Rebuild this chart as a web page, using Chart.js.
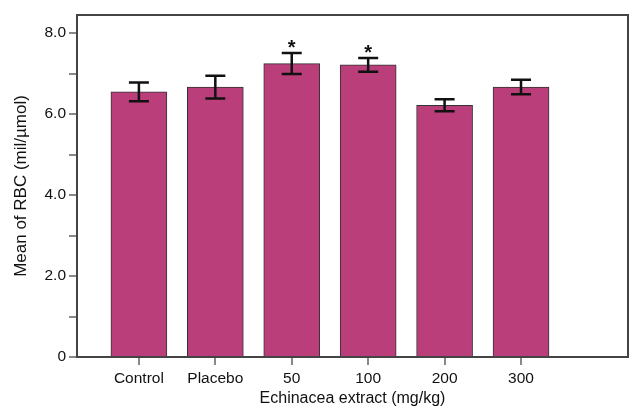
<!DOCTYPE html>
<html>
<head>
<meta charset="utf-8">
<script src="https://cdn.jsdelivr.net/npm/chart.js@4"></script>
<style>
  html, body { margin: 0; padding: 0; background: #fff; }
  #wrap { width: 629px; height: 408px; }
</style>
</head>
<body>
<div id="wrap"><canvas id="graphique"></canvas></div>
<script>
// valeurs
const categories = ['Control', 'Placebo', '50', '100', '200', '300'];
const moyennes = [6.55, 6.67, 7.25, 7.22, 6.22, 6.67];
const erreurs = [0.23, 0.28, 0.26, 0.17, 0.15, 0.18];
const significatif = [false, false, true, true, false, false];
const yTicks = [0, 1, 2, 3, 4, 5, 6, 7, 8];

const barColor = 'rgb(186, 62, 122)';
const frameColor = '#444';
const police = '"Liberation Sans", Arial, sans-serif';

// barres d'erreur + etoiles
const errorBarsPlugin = {
    id: 'errorBars',
    afterDatasetsDraw(chart) {
        const ctx = chart.ctx;
        const xs = chart.scales.x;
        const ys = chart.scales.y;
        ctx.save();
        ctx.strokeStyle = '#111';
        ctx.lineWidth = 2.5;
        moyennes.forEach((m, i) => {
            const x = xs.getPixelForValue(i + 1);
            const yTop = ys.getPixelForValue(m + erreurs[i]);
            const yBot = ys.getPixelForValue(m - erreurs[i]);
            ctx.beginPath();
            ctx.moveTo(x, yTop); ctx.lineTo(x, yBot);
            ctx.moveTo(x - 10, yTop); ctx.lineTo(x + 10, yTop);
            ctx.moveTo(x - 10, yBot); ctx.lineTo(x + 10, yBot);
            ctx.stroke();
            if (significatif[i]) {
                ctx.fillStyle = '#111';
                ctx.font = 'bold 20px ' + police;
                ctx.textAlign = 'center';
                ctx.textBaseline = 'alphabetic';
                ctx.fillText('*', x, yTop + 1);
            }
        });
        ctx.restore();
    }
};

// cadre haut + droite
const framePlugin = {
    id: 'frame',
    afterDraw(chart) {
        const a = chart.chartArea;
        const ctx = chart.ctx;
        ctx.save();
        ctx.strokeStyle = frameColor;
        ctx.lineWidth = 2;
        ctx.beginPath();
        ctx.moveTo(a.left, a.top);
        ctx.lineTo(a.right, a.top);
        ctx.lineTo(a.right, a.bottom);
        ctx.stroke();
        ctx.restore();
    }
};

const data = {
    datasets: [{
        data: moyennes.map((v, i) => ({ x: i + 1, y: v })),
        backgroundColor: barColor,
        borderColor: '#333',
        borderWidth: 1,
        barThickness: 56
    }]
};

const options = {
    responsive: true,
    maintainAspectRatio: false,
    animation: false,
    layout: { padding: { top: 15, right: 1, left: 11, bottom: 0 } },
    plugins: { legend: { display: false }, tooltip: { enabled: false } },
    scales: {
        x: {
            type: 'linear',
            offset: false,
            min: 0.19,
            max: 7.4,
            afterBuildTicks(scale) {
                scale.ticks = categories.map((c, i) => ({ value: i + 1 }));
            },
            afterFit(scale) { scale.height = 51; },
            ticks: {
                color: '#111',
                padding: 4,
                font: { size: 15.5, family: police },
                callback: (v) => categories[v - 1] || ''
            },
            grid: { offset: false, drawOnChartArea: false, drawTicks: true, tickLength: 8, color: '#888', lineWidth: 2 },
            border: { color: frameColor, width: 2 },
            title: {
                display: true,
                text: 'Echinacea extract (mg/kg)',
                color: '#111',
                padding: { top: -3, bottom: 0 },
                font: { size: 16, family: police }
            }
        },
        y: {
            min: 0,
            max: 8.45,
            afterBuildTicks(scale) {
                scale.ticks = yTicks.map(v => ({ value: v }));
            },
            afterFit(scale) { scale.width = 66; },
            ticks: {
                color: '#111',
                padding: 3,
                font: { size: 15.5, family: police },
                callback: (v) => v % 2 === 0 ? (v === 0 ? '0' : v.toFixed(1)) : ''
            },
            grid: { drawOnChartArea: false, drawTicks: true, tickLength: 8, color: '#888', lineWidth: 2 },
            border: { color: frameColor, width: 2 },
            title: {
                display: true,
                text: 'Mean of RBC (mil/µmol)',
                color: '#111',
                padding: { top: 0, bottom: 4 },
                font: { size: 17, family: police }
            }
        }
    }
};

new Chart(document.getElementById('graphique').getContext('2d'), {
    type: 'bar',
    data: data,
    options: options,
    plugins: [errorBarsPlugin, framePlugin]
});
</script>
</body>
</html>
